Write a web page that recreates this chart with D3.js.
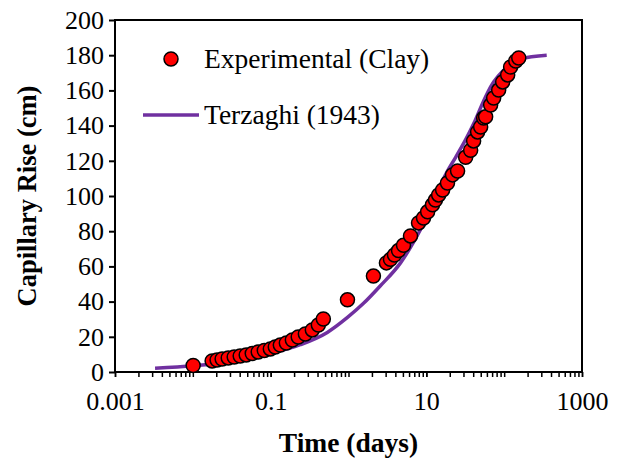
<!DOCTYPE html>
<html><head><meta charset="utf-8">
<script src="https://cdn.jsdelivr.net/npm/d3@7"></script>
<style>body{margin:0;background:#fff;} svg{display:block;}</style>
</head><body>
<svg id="c" width="627" height="459"></svg>
<script>
// Experimental (Clay)
const expTime = [0.0101,0.0177,0.0205,0.0238,0.0285,0.034,0.0406,0.0485,0.058,0.0692,0.0828,0.099,0.1146,0.133,0.159,0.19,0.226,0.279,0.343,0.41,0.475,0.97,2.09,3.07,3.46,3.90,4.39,5.09,6.26,7.94,9.20,10.4,12.0,13.1,14.4,16.2,18.7,21.7,25.2,32.0,37.1,40.5,45.6,49.9,54.5,57.8,67.0,73.3,85.0,95.7,111,121,141,154];
const expRise = [3.7,6.3,6.8,7.4,8.0,8.5,9.1,9.7,10.5,11.4,12.2,13.1,14.2,15.3,16.5,18.2,19.9,21.6,23.9,26.7,30.1,41,54.5,62,64,66.5,69,72,77.3,84.7,87.5,91,95,97.7,100.6,103.4,107.4,112,114.2,122,126,131.3,136.4,139.2,144.3,145,151.7,155.7,160.2,164.8,168.8,173.3,176.7,178.4];
// Terzaghi (1943)
const terTime = [0.00327,0.0101,0.0321,0.1,0.24,0.534,0.97,1.56,2.57,4.66,8.42,18.6,23.8,32,40.5,54.5,67,111,163,352];
const terRise = [2.1,3.5,6,10.5,15.5,22.5,31,39,49,62,81,114,122,132,141,154,162,173.5,178,180];
const xTicks = [0.001,0.1,10,1000];
const yTicks = [0,20,40,60,80,100,120,140,160,180,200];
const legendLabels = ["Experimental (Clay)","Terzaghi (1943)"];

const svg = d3.select("#c");
const m = {l:115, t:20, r:45, b:87};
const W = 627 - m.l - m.r, H = 459 - m.t - m.b;
const g = svg.append("g").attr("transform",`translate(${m.l},${m.t})`);
const x = d3.scaleLog().domain([0.001,1000]).range([0,W]);
const y = d3.scaleLinear().domain([0,200]).range([H,0]);
const font = "'Liberation Serif','Times New Roman',serif";

// minor ticks for log axis
const minor = [];
for (let e=-3; e<3; e++) for (let k=1; k<10; k++) minor.push(k*Math.pow(10,e));
minor.push(1000);
const xa = g.append("g").attr("transform",`translate(0,${H})`)
  .call(d3.axisBottom(x).tickValues(minor).tickSize(5).tickFormat(""));
xa.selectAll("line").attr("stroke","#000").attr("stroke-width",1.5);
xa.select(".domain").remove();
const xl = g.append("g").attr("transform",`translate(0,${H})`)
  .call(d3.axisBottom(x).tickValues(xTicks).tickSize(5).tickPadding(15).tickFormat(d=>String(d)));
xl.selectAll("line").attr("stroke","#000").attr("stroke-width",1.5);
xl.select(".domain").remove();
xl.selectAll("text").attr("font-family",font).attr("font-size",26).attr("fill","#000");

const ya = g.append("g").call(d3.axisLeft(y).tickValues(yTicks).tickSize(6).tickPadding(5));
ya.selectAll("line").attr("stroke","#000").attr("stroke-width",2);
ya.select(".domain").remove();
ya.selectAll("text").attr("font-family",font).attr("font-size",26).attr("fill","#000");

// frame
g.append("rect").attr("x",0).attr("y",0).attr("width",W).attr("height",H)
  .attr("fill","none").attr("stroke","#000").attr("stroke-width",2);

// Terzaghi line
const ter = terTime.map((t,i)=>[t,terRise[i]]);
g.append("path").datum(ter)
  .attr("d", d3.line().x(d=>x(d[0])).y(d=>y(d[1])).curve(d3.curveMonotoneX))
  .attr("fill","none").attr("stroke","#7030A0").attr("stroke-width",3.5);

// Experimental points
const exp = expTime.map((t,i)=>[t,expRise[i]]);
g.selectAll("circle.p").data(exp).enter().append("circle")
  .attr("cx",d=>x(d[0])).attr("cy",d=>y(d[1])).attr("r",7)
  .attr("fill","#FF0000").attr("stroke","#000").attr("stroke-width",1.5);

// legend
svg.append("circle").attr("cx",171).attr("cy",59).attr("r",7)
  .attr("fill","#FF0000").attr("stroke","#000").attr("stroke-width",1.5);
svg.append("text").attr("x",204).attr("y",68).text(legendLabels[0])
  .attr("font-family",font).attr("font-size",27.5);
svg.append("line").attr("x1",143).attr("x2",199).attr("y1",115).attr("y2",115)
  .attr("stroke","#7030A0").attr("stroke-width",3.5);
svg.append("text").attr("x",204).attr("y",124).text(legendLabels[1])
  .attr("font-family",font).attr("font-size",27.5);

// axis titles
svg.append("text").attr("x",m.l+W/2).attr("y",452).attr("text-anchor","middle")
  .attr("font-family",font).attr("font-size",27.5).attr("font-weight","bold").text("Time (days)");
svg.append("text").attr("transform",`translate(36,${m.t+H/2}) rotate(-90)`).attr("text-anchor","middle")
  .attr("font-family",font).attr("font-size",26.5).attr("font-weight","bold").text("Capillary Rise (cm)");
</script>
</body></html>
